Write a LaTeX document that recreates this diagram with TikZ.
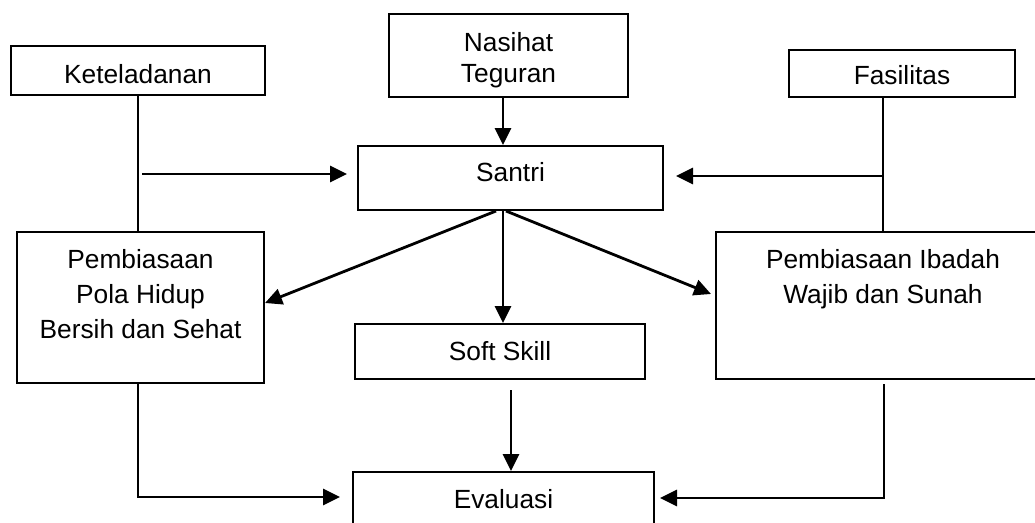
\documentclass[tikz,border=0pt]{standalone}
\usepackage{fontspec}
\setmainfont{Liberation Sans}
\usetikzlibrary{arrows.meta}
\tikzset{
  kotak/.style={draw,line width=2pt,rectangle,inner sep=0pt,anchor=north west,align=center,font=\fontsize{26.3}{35}\selectfont},
  panah/.style={line width=2.8pt,-{Triangle[length=17pt,width=16pt]}},
  garis/.style={line width=2pt}
}
\begin{document}
\begin{tikzpicture}[x=1pt,y=-1pt]
\useasboundingbox (0,0) rectangle (1035,522);
\clip (0,0) rectangle (1035,522);
\node[kotak,minimum width=254pt,text height=37pt,text depth=12pt] (ketel) at (10,45) {Keteladanan};
\node[kotak,minimum width=239pt,text height=68pt,text depth=15pt,font=\fontsize{26.3}{31}\selectfont] (nasihat) at (388,13) {Nasihat\\Teguran};
\node[kotak,minimum width=226pt,text height=34pt,text depth=13pt] (fasil) at (788,49) {Fasilitas};
\node[kotak,minimum width=305pt,text height=35pt,text depth=29pt] (santri) at (357,145) {Santri};
\node[kotak,minimum width=247pt,text height=106pt,text depth=45pt] (pola) at (16,231) {Pembiasaan\\Pola Hidup\\Bersih dan Sehat};
\node[kotak,minimum width=334pt,text height=71pt,text depth=76pt] (ibadah) at (715,231) {Pembiasaan Ibadah\\Wajib dan Sunah};
\node[kotak,minimum width=290pt,text height=36pt,text depth=19pt] (soft) at (354,323) {Soft Skill};
\node[kotak,minimum width=301pt,text height=36pt,text depth=33pt] (eval) at (352,471) {Evaluasi};

\coordinate (kjoin) at (138,174);
\coordinate (fjoin) at (882,176);
\coordinate (pbend) at (138,497);
\coordinate (ibend) at (884,498);

\draw[garis] (ketel.south -| kjoin) -- (pola.north -| kjoin);
\draw[garis] (ibadah.north |- fasil.south) -- (ibadah.north);
\draw[panah,shorten <=4pt,shorten >=10pt] (kjoin) -- (kjoin -| santri.west);
\draw[panah,shorten >=12pt] (fjoin) -- (fjoin -| santri.east);
\draw[panah] ([xshift=-5.5pt]nasihat.south) -- ([xshift=-7.5pt]santri.north);
\draw[panah] ([xshift=-14.5pt]santri.south) -- ([yshift=4.5pt]pola.east);
\draw[panah] ([xshift=-4.5pt]santri.south) -- ([xshift=-4pt,yshift=11.5pt]ibadah.west);
\draw[panah] ([xshift=-7.5pt]santri.south) -- ([xshift=3pt]soft.north);
\draw[panah,shorten <=10pt] ([xshift=11pt]soft.south) -- ([xshift=7.5pt]eval.north);
\draw[panah,shorten >=12pt] (pola.south -| pbend) -- (pbend) -- (pbend -| eval.west);
\draw[panah,shorten <=4pt,shorten >=5pt] (ibadah.south -| ibend) -- (ibend) -- (ibend -| eval.east);

\end{tikzpicture}
\end{document}
